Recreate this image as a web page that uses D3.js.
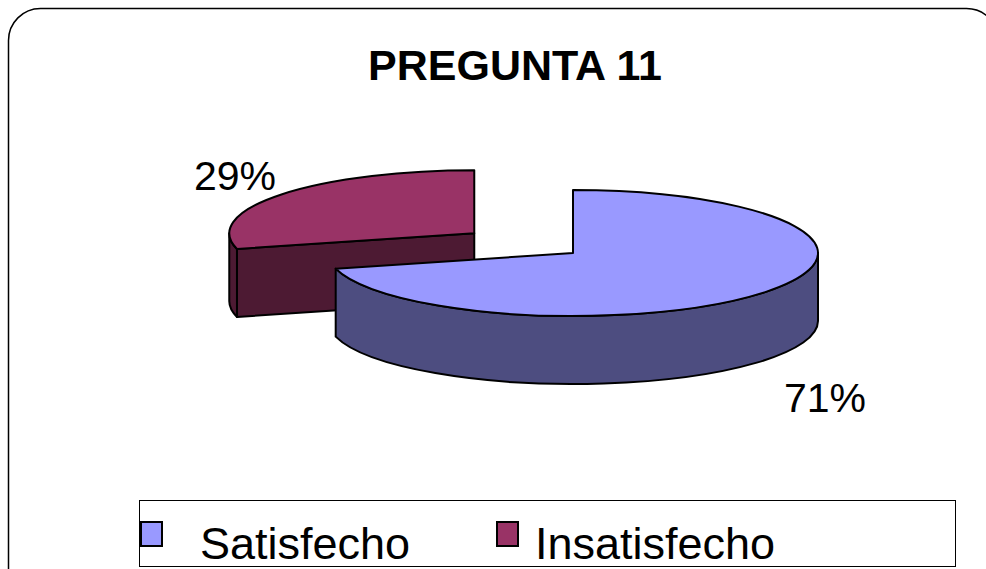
<!DOCTYPE html>
<html lang="es">
<head>
  <meta charset="UTF-8">
  <title>PREGUNTA 11</title>
  <script src="https://d3js.org/d3.v7.min.js"></script>
  <style>
    body { margin: 0; background: #fff; }
    svg { display: block; font-family: "Liberation Sans", Arial, sans-serif; }
  </style>
</head>
<body>
  <div id="chart"></div>

  <script>
    // datos
    const categorias = ["Satisfecho", "Insatisfecho"];
    const valores = [71, 29];
    const etiquetas = ["71%", "29%"];
    const titulo = "PREGUNTA 11";

    const colorTop = d3.scaleOrdinal().domain(categorias).range(["#9999ff", "#993366"]);
    const colorSide = d3.scaleOrdinal().domain(categorias).range(["#4d4d80", "#4d1a33"]);

    const width = 986, height = 569;
    const cx = 573, cy = 253;     // centro de la torta
    const rx = 245, ry = 63;      // elipse superior
    const depth = 68;             // grosor 3D
    const explode = [0, 0.51];    // porcion separada
    const labelPos = [[825, 412], [235, 190]];

    const svg = d3.select("#chart").append("svg")
      .attr("width", width)
      .attr("height", height);

    // marco redondeado
    svg.append("rect")
      .attr("x", 8.5).attr("y", 8.5)
      .attr("width", 990).attr("height", 640)
      .attr("rx", 32).attr("ry", 32)
      .attr("fill", "#fff")
      .attr("stroke", "#000")
      .attr("stroke-width", 1.5);

    svg.append("text")
      .attr("x", 515).attr("y", 80)
      .attr("text-anchor", "middle")
      .attr("font-size", 43)
      .attr("font-weight", "bold")
      .text(titulo);

    const pie = d3.pie().sort(null).value(d => d);
    const arcs = pie(valores).map((a, i) => {
      const mid = (a.startAngle + a.endAngle) / 2;
      return {
        ...a, i, name: categorias[i],
        ox: cx + explode[i] * rx * Math.sin(mid),
        oy: cy - explode[i] * ry * Math.cos(mid)
      };
    });

    function pt(a, t, dy = 0) {
      return [a.ox + rx * Math.sin(t), a.oy - ry * Math.cos(t) + dy];
    }

    function topPath(a) {
      const p0 = pt(a, a.startAngle), p1 = pt(a, a.endAngle);
      const large = (a.endAngle - a.startAngle) > Math.PI ? 1 : 0;
      return `M${a.ox},${a.oy}L${p0}A${rx},${ry} 0 ${large} 1 ${p1}Z`;
    }

    function outerPath(a) {
      // parte visible del borde exterior (mitad frontal)
      const s = Math.max(a.startAngle, Math.PI / 2);
      const e = Math.min(a.endAngle, 3 * Math.PI / 2);
      if (e <= s) return null;
      const p0 = pt(a, s), p1 = pt(a, e);
      const q0 = pt(a, s, depth), q1 = pt(a, e, depth);
      return `M${p0}A${rx},${ry} 0 0 1 ${p1}L${q1}A${rx},${ry} 0 0 0 ${q0}Z`;
    }

    function radialPath(a, t) {
      const p = pt(a, t), q = pt(a, t, depth);
      return `M${a.ox},${a.oy}L${p}L${q}L${a.ox},${a.oy + depth}Z`;
    }

    const g = svg.append("g")
      .attr("stroke", "#000")
      .attr("stroke-width", 2)
      .attr("stroke-linejoin", "round");

    // se dibuja primero la porcion de atras
    [arcs[1], arcs[0]].forEach(a => {
      if (a.startAngle > Math.PI / 2 && a.startAngle < 3 * Math.PI / 2) {
        g.append("path").attr("d", radialPath(a, a.startAngle)).attr("fill", colorSide(a.name));
      }
      const op = outerPath(a);
      if (op) g.append("path").attr("d", op).attr("fill", colorSide(a.name));
      g.append("path").attr("d", topPath(a)).attr("fill", colorTop(a.name));
    });

    svg.selectAll("text.lbl")
      .data(arcs)
      .join("text")
      .attr("class", "lbl")
      .attr("x", d => labelPos[d.i][0])
      .attr("y", d => labelPos[d.i][1])
      .attr("text-anchor", "middle")
      .attr("font-size", 41)
      .text(d => etiquetas[d.i]);

    // leyenda
    svg.append("rect")
      .attr("x", 139.5).attr("y", 500.5)
      .attr("width", 816).attr("height", 66)
      .attr("fill", "none")
      .attr("stroke", "#000")
      .attr("stroke-width", 1);

    const legX = [141, 497];
    const leg = svg.selectAll("g.leg")
      .data(categorias)
      .join("g")
      .attr("class", "leg")
      .attr("transform", (d, i) => `translate(${legX[i]},522)`);

    leg.append("rect")
      .attr("width", 21).attr("height", 24)
      .attr("fill", d => colorTop(d))
      .attr("stroke", "#000")
      .attr("stroke-width", 2);

    leg.append("text")
      .attr("x", (d, i) => i === 0 ? 59 : 38)
      .attr("y", 37)
      .attr("font-size", 45)
      .text(d => d);
  </script>
</body>
</html>
